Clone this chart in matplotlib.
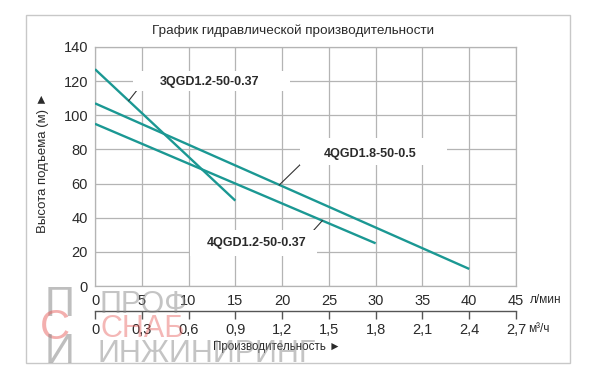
import matplotlib
matplotlib.use('Agg')
import matplotlib.pyplot as plt
from matplotlib.patches import Rectangle

plt.rcParams['font.family'] = ['Liberation Sans', 'DejaVu Sans']

# ---------------- data ----------------
title = 'График гидравлической производительности'
ylabel = 'Высота подъема (м) ►'
xlabel = 'Производительность ►'
unit_lmin = 'л/мин'
unit_m3h = 'м³/ч'

models = ['3QGD1.2-50-0.37', '4QGD1.8-50-0.5', '4QGD1.2-50-0.37']
flow_lmin = [[0, 15], [0, 40], [0, 30]]
head_m = [[127, 50], [107, 10], [95, 25]]

x_ticks_lmin = [0, 5, 10, 15, 20, 25, 30, 35, 40, 45]
x_ticks_m3h = [0, 0.3, 0.6, 0.9, 1.2, 1.5, 1.8, 2.1, 2.4, 2.7]
x_labels_m3h = ['0', '0,3', '0,6', '0,9', '1,2', '1,5', '1,8', '2,1', '2,4', '2,7']
y_ticks = [0, 20, 40, 60, 80, 100, 120, 140]

watermark = ['ПРОФ', 'СНАБ', 'ИНЖИНИРИНГ']

# ---------------- figure ----------------
W, H = 600, 382
fig = plt.figure(figsize=(W / 100, H / 100), dpi=100)
fig.patch.set_facecolor('white')

def fx(px):
    return px / W

def fy(py):
    return 1 - py / H

L, R, T, B = 95, 516, 47, 286
ax = fig.add_axes([fx(L), fy(B), fx(R - L), (B - T) / H])
ax.set_xlim(0, 45)
ax.set_ylim(0, 140)

grid_c = '#b4b4b4'
text_c = '#2a2a2a'
line_c = '#1b9893'

ax.set_xticks(x_ticks_lmin)
ax.set_xticklabels([str(v) for v in x_ticks_lmin])
ax.set_yticks(y_ticks)
ax.grid(True, color=grid_c, linewidth=0.9, zorder=0)
ax.set_axisbelow(True)
for s in ax.spines.values():
    s.set_color(grid_c)
    s.set_linewidth(0.9)
ax.tick_params(axis='both', length=0, labelsize=10.5, colors=text_c)
ax.tick_params(axis='x', pad=6)
ax.tick_params(axis='y', pad=5)

# white boxes behind the model labels (break the grid)
boxes = [  # (x0, y0, x1, y1) in pixel coordinates of the figure
    (133, 71, 290, 91),
    (300, 138, 447, 165),
    (190, 230, 317, 256),
]
for (x0, y0, x1, y1) in boxes:
    fig.patches.append(Rectangle((fx(x0), fy(y1)), fx(x1 - x0), (y1 - y0) / H,
                                 transform=fig.transFigure, facecolor='white',
                                 edgecolor='none', zorder=1))
ax.set_zorder(1)
ax.patch.set_alpha(0)

for fl, hd in zip(flow_lmin, head_m):
    ax.plot(fl, hd, color=line_c, linewidth=1.7, solid_capstyle='butt', zorder=3)

# labels and leader lines
label_pos = [(210, 82), (370, 154), (257, 243)]
leaders = [((3.6, 108.5), (4.6, 115.5)),
           ((19.7, 59.2), (22.1, 72.0)),
           ((24.3, 38.3), (23.2, 31.6))]
for name, (px, py), (p0, p1) in zip(models, label_pos, leaders):
    fig.text(fx(px), fy(py), name, ha='center', va='center', fontsize=9,
             fontweight='bold', color=text_c, zorder=5)
    ax.plot([p0[0], p1[0]], [p0[1], p1[1]], color='#333333', linewidth=0.8, zorder=4)

# secondary axis (m3/h)
sec = ax.secondary_xaxis(-(311 - B) / (B - T),
                         functions=(lambda q: q * 60 / 1000, lambda m: m * 1000 / 60))
sec.set_xticks(x_ticks_m3h)
sec.set_xticklabels(x_labels_m3h)
sec.tick_params(axis='x', direction='out', length=6, width=1, colors=text_c,
                labelsize=10.5, pad=3, color='#555555')
sec.spines['bottom'].set_color('#555555')
sec.spines['bottom'].set_linewidth(1)

fig.text(fx(530), fy(300), unit_lmin, ha='left', va='center', fontsize=8.5, color=text_c)
fig.text(fx(528), fy(329), unit_m3h, ha='left', va='center', fontsize=8.5, color=text_c)

fig.text(fx(293), fy(31), title, ha='center', va='center', fontsize=9.7, color=text_c)
fig.text(fx(43), fy(163), ylabel, ha='center', va='center', rotation=90,
         fontsize=9.5, color=text_c)
fig.text(fx(277), fy(347), xlabel, ha='center', va='center', fontsize=8.4, color=text_c)

# outer frame
fig.patches.append(Rectangle((fx(26), fy(363)), fx(570 - 26), (363 - 15) / H,
                             transform=fig.transFigure, fill=False,
                             edgecolor='#c8c8c8', linewidth=1, zorder=0))

# watermark
fig.text(fx(60), fy(305), 'П', ha='center', va='center', fontsize=30,
         color='#8a8a8a', alpha=0.55, zorder=10)
fig.text(fx(55), fy(328), 'С', ha='center', va='center', fontsize=30,
         color='#e8605e', alpha=0.5, zorder=10)
fig.text(fx(60), fy(352), 'И', ha='center', va='center', fontsize=30,
         color='#8a8a8a', alpha=0.55, zorder=10)
fig.text(fx(100), fy(305), watermark[0], ha='left', va='center', fontsize=22,
         color='#8a8a8a', alpha=0.5, zorder=10)
fig.text(fx(100), fy(329), watermark[1], ha='left', va='center', fontsize=22,
         color='#e8605e', alpha=0.45, zorder=10)
fig.text(fx(98), fy(354), watermark[2], ha='left', va='center', fontsize=22,
         color='#8a8a8a', alpha=0.5, zorder=10)

fig.savefig('out.png', dpi=100, facecolor='white')
